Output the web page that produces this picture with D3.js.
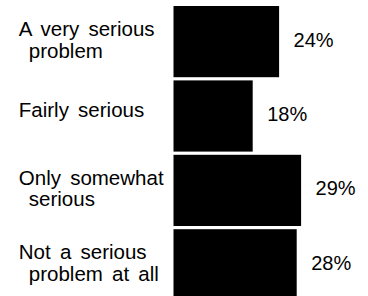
<!DOCTYPE html>
<html>
<head>
<meta charset="utf-8">
<script src="https://cdn.jsdelivr.net/npm/d3@7"></script>
<style>
  html, body { margin: 0; padding: 0; background: #fff; }
  svg { display: block; }
  text { font-family: "Liberation Sans", Arial, Helvetica, sans-serif; fill: #000; }
</style>
</head>
<body>
<svg id="chart" width="368" height="296"></svg>
<script>
const categories = ["A very serious problem", "Fairly serious", "Only somewhat serious", "Not a serious problem at all"];
const categoryLines = [["A very serious", "problem"], ["Fairly serious"], ["Only somewhat", "serious"], ["Not a serious", "problem at all"]];
const values = [24, 18, 29, 28];
const valueLabels = ["24%", "18%", "29%", "28%"];

const W = 368, H = 296;
const svg = d3.select("#chart");

const y = d3.scaleBand()
  .domain(categories)
  .range([6, 300.4])
  .paddingInner(0.043)
  .paddingOuter(0);

const x = d3.scaleLinear()
  .domain([0, 30])
  .range([173.5, 173.5 + 132]);

const rows = categories.map((c, i) => ({ cat: c, lines: categoryLines[i], value: values[i], label: valueLabels[i] }));

svg.selectAll("rect.bar")
  .data(rows)
  .join("rect")
  .attr("class", "bar")
  .attr("x", x(0))
  .attr("y", d => y(d.cat))
  .attr("width", d => x(d.value) - x(0))
  .attr("height", y.bandwidth())
  .attr("fill", "#000");

const fs = 20.5;
const lineH = 21.5;

const catText = svg.selectAll("text.cat")
  .data(rows)
  .join("text")
  .attr("class", "cat")
  .attr("font-size", fs)
  .attr("word-spacing", 3.5);

catText.each(function(d) {
  const c = y(d.cat) + y.bandwidth() / 2;
  const n = d.lines.length;
  const base = c + 0.5 - 6 * (n - 1);
  d3.select(this).selectAll("tspan")
    .data(d.lines)
    .join("tspan")
    .attr("x", (l, j) => j === 0 ? 18.8 : 28.8)
    .attr("y", (l, j) => base + j * lineH)
    .text(l => l);
});

svg.selectAll("text.val")
  .data(rows)
  .join("text")
  .attr("class", "val")
  .attr("font-size", 20)
  .attr("x", d => x(d.value) + 14.5)
  .attr("y", d => y(d.cat) + y.bandwidth() / 2 + 5)
  .text(d => d.label);
</script>
</body>
</html>
